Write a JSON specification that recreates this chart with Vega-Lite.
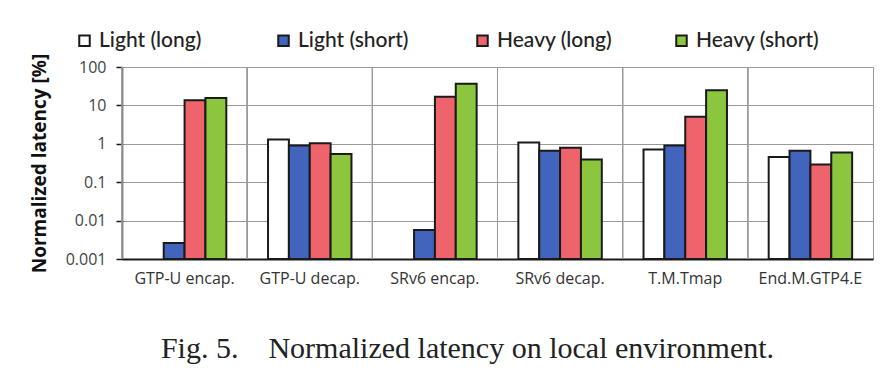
{
  "$schema": "https://vega.github.io/schema/vega-lite/v6.json",
  "width": 751,
  "height": 192,
  "autosize": {"type": "none"},
  "padding": {"left": 122, "top": 67, "right": 23, "bottom": 121},
  "background": "white",
  "title": {
    "text": "Fig. 5.\u00a0\u00a0\u00a0 Normalized latency on local environment.",
    "orient": "bottom",
    "anchor": "middle",
    "font": "Liberation Serif",
    "fontSize": 30,
    "fontWeight": "normal",
    "color": "#222",
    "offset": 48,
    "dx": -30
  },
  "data": {
    "values": [
      {"cat": "GTP-U encap.", "series": "Light (short)", "value": 0.0026},
      {"cat": "GTP-U encap.", "series": "Heavy (long)", "value": 13.7},
      {"cat": "GTP-U encap.", "series": "Heavy (short)", "value": 15.7},
      {"cat": "GTP-U decap.", "series": "Light (long)", "value": 1.29},
      {"cat": "GTP-U decap.", "series": "Light (short)", "value": 0.9},
      {"cat": "GTP-U decap.", "series": "Heavy (long)", "value": 1.04},
      {"cat": "GTP-U decap.", "series": "Heavy (short)", "value": 0.54},
      {"cat": "SRv6 encap.", "series": "Light (short)", "value": 0.0057},
      {"cat": "SRv6 encap.", "series": "Heavy (long)", "value": 16.7},
      {"cat": "SRv6 encap.", "series": "Heavy (short)", "value": 36.8},
      {"cat": "SRv6 decap.", "series": "Light (long)", "value": 1.08},
      {"cat": "SRv6 decap.", "series": "Light (short)", "value": 0.66},
      {"cat": "SRv6 decap.", "series": "Heavy (long)", "value": 0.79},
      {"cat": "SRv6 decap.", "series": "Heavy (short)", "value": 0.39},
      {"cat": "T.M.Tmap", "series": "Light (long)", "value": 0.71},
      {"cat": "T.M.Tmap", "series": "Light (short)", "value": 0.9},
      {"cat": "T.M.Tmap", "series": "Heavy (long)", "value": 5.1},
      {"cat": "T.M.Tmap", "series": "Heavy (short)", "value": 24.8},
      {"cat": "End.M.GTP4.E", "series": "Light (long)", "value": 0.45},
      {"cat": "End.M.GTP4.E", "series": "Light (short)", "value": 0.66},
      {"cat": "End.M.GTP4.E", "series": "Heavy (long)", "value": 0.29},
      {"cat": "End.M.GTP4.E", "series": "Heavy (short)", "value": 0.59}
    ]
  },
  "layer": [
    {
      "mark": {"type": "rule", "color": "#9a9a9a", "strokeWidth": 1},
      "encoding": {
        "x": {
          "field": "cat", "type": "nominal", "bandPosition": 0,
          "scale": {"domain": ["GTP-U encap.", "GTP-U decap.", "SRv6 encap.", "SRv6 decap.", "T.M.Tmap", "End.M.GTP4.E"], "paddingInner": 0, "paddingOuter": 0},
          "title": null
        }
      }
    },
    {
      "mark": {"type": "bar", "stroke": "#1a1a1a", "strokeWidth": 2},
      "encoding": {
        "x": {
          "field": "cat", "type": "nominal",
          "scale": {"domain": ["GTP-U encap.", "GTP-U decap.", "SRv6 encap.", "SRv6 decap.", "T.M.Tmap", "End.M.GTP4.E"], "paddingInner": 0, "paddingOuter": 0},
          "title": null
        },
        "xOffset": {
          "field": "series", "type": "nominal",
          "scale": {"domain": ["Light (long)", "Light (short)", "Heavy (long)", "Heavy (short)"], "paddingInner": 0, "paddingOuter": 1.38}
        },
        "y": {
          "field": "value", "type": "quantitative",
          "scale": {"type": "log", "domain": [0.001, 100], "nice": false},
          "axis": {
            "values": [0.001, 0.01, 0.1, 1, 10, 100],
            "labelExpr": "datum.value >= 1 ? format(datum.value, 'd') : format(datum.value, '~g')",
            "title": "Normalized latency [%]"
          }
        },
        "y2": {"datum": 0.001},
        "fill": {
          "field": "series", "type": "nominal",
          "scale": {
            "domain": ["Light (long)", "Light (short)", "Heavy (long)", "Heavy (short)"],
            "range": ["#ffffff", "#4264bd", "#ef646c", "#8cc63f"]
          },
          "legend": {
            "title": null,
            "orient": "none",
            "legendX": -48,
            "legendY": -37,
            "direction": "horizontal",
            "columns": 4,
            "gridAlign": "all",
            "columnPadding": 50,
            "symbolType": "square",
            "symbolSize": 110,
            "symbolStrokeColor": "#1a1a1a",
            "symbolStrokeWidth": 2,
            "symbolOpacity": 1,
            "labelFont": "Lato",
            "labelFontSize": 21,
            "labelFontWeight": 500,
            "labelColor": "#222",
            "labelOffset": 4,
            "labelLimit": 200
          }
        }
      }
    }
  ],
  "config": {
    "view": {"stroke": "#9a9a9a", "strokeWidth": 1},
    "axis": {
      "labelFont": "Open Sans",
      "labelFontSize": 14,
      "labelColor": "#333",
      "domainColor": "#1a1a1a",
      "domainWidth": 1.5,
      "gridColor": "#9a9a9a",
      "gridWidth": 1
    },
    "axisX": {"grid": false, "ticks": false, "labelPadding": 11, "labelAngle": 0, "labelFontSize": 16, "domainWidth": 2},
    "axisY": {
      "grid": true,
      "tickColor": "#1a1a1a",
      "tickSize": 6,
      "tickWidth": 1.5,
      "labelPadding": 10,
      "labelFontSize": 16,
      "labelColor": "#444",
      "titleFont": "Open Sans",
      "titleFontSize": 19,
      "titleFontWeight": "bold",
      "titleColor": "#111",
      "titlePadding": 16
    }
  }
}
